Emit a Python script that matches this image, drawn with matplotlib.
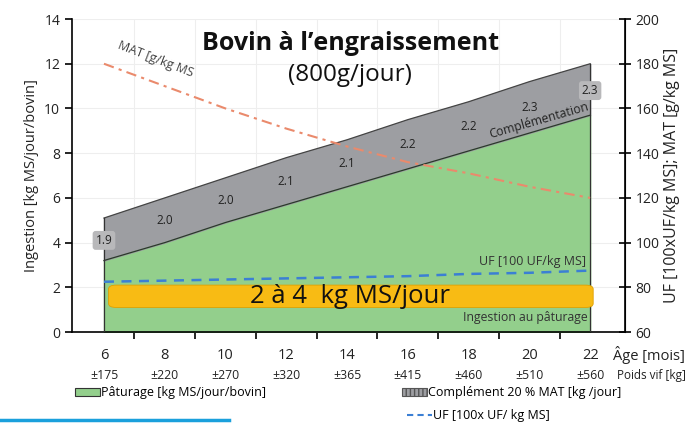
import matplotlib
matplotlib.use("Agg")
import matplotlib.pyplot as plt
from matplotlib.patches import FancyBboxPatch, Patch
from matplotlib.lines import Line2D
import numpy as np

plt.rcParams['font.family'] = ['Open Sans', 'DejaVu Sans']

# data
age = [6, 8, 10, 12, 14, 16, 18, 20, 22]
poids = ['±175', '±220', '±270', '±320', '±365', '±415', '±460', '±510', '±560']
paturage = [3.2, 4.0, 4.9, 5.7, 6.5, 7.3, 8.1, 8.9, 9.7]
complement = [1.9, 2.0, 2.0, 2.1, 2.1, 2.2, 2.2, 2.3, 2.3]
mat = [180, 170, 160, 151, 143, 136, 131, 125, 120]
uf = [82.5, 83, 83.5, 84, 84.5, 85, 86, 86.5, 87.5]
bande_txt = '2 à 4  kg MS/jour'
bande_lo, bande_hi = 1.1, 2.1

green = '#93cf8c'
grey = '#9d9ea2'
txt = '#222222'

fig = plt.figure(figsize=(6.93, 4.23), dpi=100)
ax = fig.add_axes([0.104, 0.215, 0.798, 0.74])
ax2 = ax.twinx()

total = np.array(paturage) + np.array(complement)
ax.fill_between(age, 0, paturage, color=green, zorder=2)
ax.fill_between(age, paturage, total, color=grey, zorder=2)
ax.plot(age, paturage, color='#2a3a2a', lw=0.9, zorder=3)
ax.plot(age, total, color='#444444', lw=0.9, zorder=3)
ax.plot([age[0], age[0]], [0, total[0]], color='#333333', lw=0.9, zorder=3)
ax.plot([age[-1], age[-1]], [0, total[-1]], color='#333333', lw=0.9, zorder=3)

# labels of complement on the grey band
for i, (x, c) in enumerate(zip(age, complement)):
    ymid = (paturage[i] + total[i]) / 2
    if i == 0 or i == len(age) - 1:
        ax.text(x, ymid - 0.05, f'{c:.1f}', ha='center', va='center', fontsize=8.5,
                color=txt, zorder=6,
                bbox=dict(boxstyle='round,pad=0.25', fc='#b8b8ba', ec='none'))
    else:
        ax.text(x, ymid, f'{c:.1f}', ha='center', va='center', fontsize=8.5,
                color=txt, zorder=6)

# MAT and UF lines on right axis
ax2.plot(age, mat, color='#ea8a6c', lw=1.5, ls=(0, (5, 2.5, 1.5, 2.5)), zorder=4)
ax2.plot(age, uf, color='#3b7fd4', lw=1.8, ls=(0, (4, 3)), zorder=4)

# orange band
band = FancyBboxPatch((6.15, bande_lo), 22.1 - 6.15, bande_hi - bande_lo,
                      boxstyle='round,pad=0,rounding_size=0.25', mutation_aspect=0.7,
                      fc='#f8bb14', ec='#e0a000', lw=0.6, zorder=5)
ax.add_patch(band)
ax.text(14.1, (bande_lo + bande_hi) / 2 - 0.03, bande_txt, ha='center', va='center',
        fontsize=18.5, color='#111111', zorder=6)

# in-plot texts
ax.text(7.7, 12.2, 'MAT [g/kg MS', rotation=-21, ha='center', va='center', fontsize=9,
        color='#444444', zorder=6)
ax.text(20.1, 3.15, 'UF [100 UF/kg MS]', ha='center', va='center', fontsize=9,
        color='#333333', zorder=6)
ax.text(19.85, 0.63, 'Ingestion au pâturage', ha='center', va='center', fontsize=8.8,
        color='#333333', zorder=6)
ax.text(20.3, 9.45, 'Complémentation', rotation=16, ha='center', va='center', fontsize=8.8,
        color=txt, zorder=6)
ax.text(14.1, 12.9, 'Bovin à l\u2019engraissement', ha='center', va='center', fontsize=18,
        fontweight='bold', color='#111111', zorder=6)
ax.text(14.1, 11.5, '(800g/jour)', ha='center', va='center', fontsize=17.5,
        color='#111111', zorder=6)

# axes styling
ax.set_xlim(4.95, 23.15)
ax.set_ylim(0, 14)
ax2.set_ylim(60, 200)
ax.set_yticks(range(0, 15, 2))
ax2.set_yticks(range(60, 201, 20))
ax.set_xticks(range(7, 23, 2))
ax.set_xticklabels([])
ax.tick_params(axis='x', direction='out', length=5, width=1.2)
ax.tick_params(axis='y', direction='out', length=5, width=1.2, labelsize=10,
               labelcolor=txt)
ax2.tick_params(axis='y', direction='inout', length=8, width=1.2, labelsize=10,
                labelcolor=txt)
ax.spines['top'].set_visible(False)
ax2.spines['top'].set_visible(False)
ax2.spines['left'].set_visible(False)
ax2.spines['bottom'].set_visible(False)
ax.spines['left'].set_linewidth(1.2)
ax.spines['bottom'].set_linewidth(1.2)
ax2.spines['right'].set_linewidth(1.2)
ax.grid(True, color='#eeeeee', lw=0.8, zorder=0)
ax.set_axisbelow(True)
ax.set_zorder(ax2.get_zorder() - 1)
ax2.patch.set_visible(False)

ax.set_ylabel('Ingestion [kg MS/jour/bovin]', fontsize=10.5, color=txt, labelpad=4)
ax2.set_ylabel('UF [100xUF/kg MS]; MAT [g/kg MS]', fontsize=11.5, color=txt, labelpad=3)

trans = ax.get_xaxis_transform()
for x, p in zip(age, poids):
    ax.text(x, -0.075, str(x), transform=trans, ha='center', va='center', fontsize=10.5,
            color=txt)
    ax.text(x, -0.14, p, transform=trans, ha='center', va='center', fontsize=8.8,
            color=txt)
fig.text(0.936, 0.16, 'Âge [mois]', ha='center', va='center', fontsize=10.5, color=txt)
fig.text(0.94, 0.113, 'Poids vif [kg]', ha='center', va='center', fontsize=8.5, color=txt)

# legends
h1 = Patch(fc=green, ec='#333333', lw=0.8)
h2 = Patch(fc=grey, ec='#555555', lw=0.8, hatch='||||')
h3 = Line2D([], [], color='#3b7fd4', lw=1.5, ls=(0, (3, 2)))
kw = dict(frameon=False, fontsize=9, handlelength=2.0, handleheight=0.6,
          handletextpad=0.1, borderpad=0, borderaxespad=0)
fig.legend([h1], ['Pâturage [kg MS/jour/bovin]'], loc='center left',
           bbox_to_anchor=(0.108, 0.071), **kw)
fig.legend([h2], ['Complément 20 % MAT [kg /jour]'], loc='center left',
           bbox_to_anchor=(0.58, 0.071), **kw)
fig.legend([h3], ['UF [100x UF/ kg MS]'], loc='center left',
           bbox_to_anchor=(0.587, 0.017), **kw)

fig.add_artist(Line2D([0, 0.33], [0.006, 0.006], color='#1aa0dc', lw=2.5,
                      transform=fig.transFigure))

fig.savefig('out.png', dpi=100)
